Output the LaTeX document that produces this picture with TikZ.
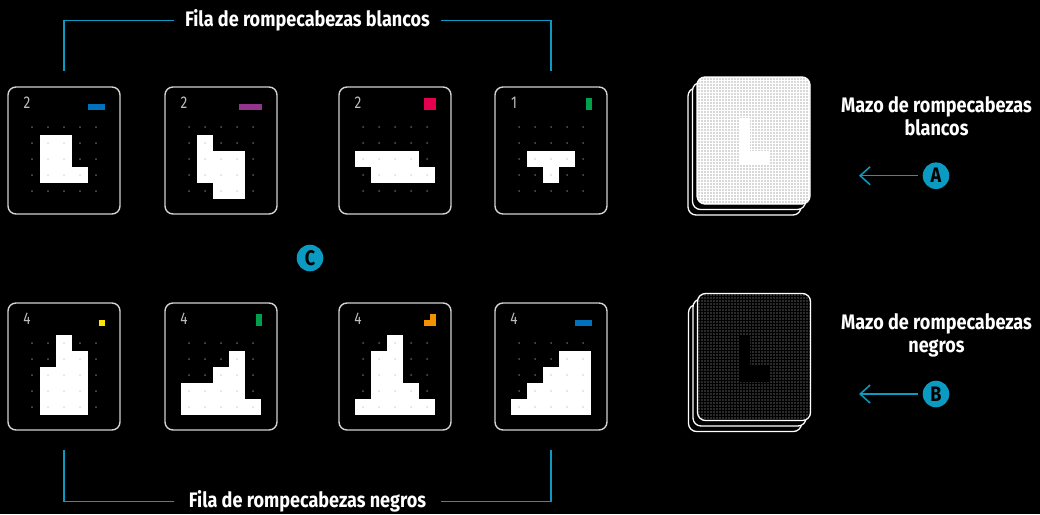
\documentclass[tikz,border=0pt]{standalone}
\usepackage{xcolor}
\usepackage{fontspec}
\setmainfont{Fira Sans}
\newfontfamily\labelfont{Fira Sans}[FakeStretch=0.86]
\newfontfamily\numfont{Fira Sans}[FakeStretch=0.8]
\usepackage{tikz}
\usetikzlibrary{arrows.meta, positioning, calc, patterns.meta}
\definecolor{linkblue}{HTML}{0A9AC2}
\definecolor{cardline}{HTML}{D2D2D2}
\definecolor{numgray}{HTML}{BEBEBE}
\definecolor{dotdark}{HTML}{5A5A5A}
\definecolor{dotlight}{HTML}{DCDCDC}
\definecolor{deckdot}{HTML}{555555}
\definecolor{pieceblue}{HTML}{0072BC}
\definecolor{piecepurple}{HTML}{93358D}
\definecolor{piecered}{HTML}{E5004F}
\definecolor{piecegreen}{HTML}{00A04A}
\definecolor{pieceyellow}{HTML}{FFE600}
\definecolor{pieceorange}{HTML}{F39200}
\tikzstyle{card} = [rectangle,
rounded corners=8pt,
minimum width=112pt,
minimum height=127pt,
inner sep=0pt,
draw=cardline, line width=1.4pt, fill=black]
\tikzstyle{deckcard} = [rectangle,
rounded corners=8pt,
minimum width=113pt,
minimum height=127pt,
inner sep=0pt,
draw=white, line width=1.3pt, fill=black]
\tikzstyle{cardnum} = [text=numgray, inner sep=0pt,
font=\numfont\fontsize{17}{17}\selectfont]
\tikzstyle{rowlabel} = [text=white, inner sep=0pt,
minimum width=266pt,
font=\labelfont\bfseries\fontsize{21}{24}\selectfont]
\tikzstyle{decklabel} = [text=white, inner sep=0pt, align=center,
font=\labelfont\bfseries\fontsize{21}{23}\selectfont]
\tikzstyle{marker} = [circle, fill=linkblue, text=black,
minimum size=26.6pt, inner sep=0pt,
font=\labelfont\bfseries\fontsize{21}{21}\selectfont]
\tikzstyle{bracket} = [linkblue, line width=1.5pt]
\tikzstyle{pointer} = [linkblue, line width=1.5pt,
{Straight Barb[length=10pt,width=18pt]}-, shorten >=5pt]
% dots and white cells of a card: #1 card, #2 cells col/row
\newcommand{\cardgrid}[2]{%
  \foreach \i in {0,...,4}
    \foreach \j in {0,...,4}
      \fill[dotdark] ($(#1)+(16*\i-32,16*\j-23.5)$) circle (1pt);
  \foreach \i/\j in {#2} {
    \fill[white] ($(#1)+(16*\i-40,16*\j-31.5)$) rectangle +(16,16);
    \fill[dotlight] ($(#1)+(16*\i-32,16*\j-23.5)$) circle (1pt);
  }
}
% small coloured piece: #1 card, #2 colour, #3 cells (from right / from bottom)
\newcommand{\cardpiece}[3]{%
  \foreach \i/\j in {#3}
    \fill[#2] ($(#1)+(35.2-5.8*\i,-46.8-5.8*\j)$) rectangle +(5.85,5.85);
}

\begin{document}
\begin{tikzpicture}[x=1pt, y=-1pt]
  \fill[black] (0,0) rectangle (1040,514);
  \useasboundingbox (0,0) rectangle (1040,514);

  % white row
  \node (card1) [card] at (64,150.5) {};
  \node (card2) [card] at (221,150.5) {};
  \node (card3) [card] at (395,150.5) {};
  \node (card4) [card] at (551,150.5) {};
  % black row
  \node (card5) [card] at (64,366.5) {};
  \node (card6) [card] at (221,366.5) {};
  \node (card7) [card] at (395,366.5) {};
  \node (card8) [card] at (551,366.5) {};

  \cardgrid{card1}{1/1,2/1,1/2,2/2,1/3,2/3,3/3}
  \cardgrid{card2}{1/1,1/2,2/2,3/2,1/3,2/3,3/3,2/4,3/4}
  \cardgrid{card3}{0/2,1/2,2/2,3/2,1/3,2/3,3/3,4/3}
  \cardgrid{card4}{1/2,2/2,3/2,2/3}
  \cardgrid{card5}{1/2,1/3,1/4,2/0,2/1,2/2,2/3,2/4,3/1,3/2,3/3,3/4}
  \cardgrid{card6}{0/4,1/4,2/4,3/4,4/4,0/3,1/3,2/3,3/3,2/2,3/2,3/1}
  \cardgrid{card7}{2/0,2/1,2/2,2/3,2/4,1/1,1/2,1/3,1/4,3/3,3/4,0/4,4/4}
  \cardgrid{card8}{3/1,4/1,2/2,3/2,4/2,1/3,2/3,3/3,4/3,0/4,1/4,2/4,3/4,4/4}

  \cardpiece{card1}{pieceblue}{0/0,1/0,2/0}
  \cardpiece{card2}{piecepurple}{0/0,1/0,2/0,3/0}
  \cardpiece{card3}{piecered}{0/0,1/0,0/1,1/1}
  \cardpiece{card4}{piecegreen}{0/0,0/1}
  \cardpiece{card5}{pieceyellow}{0/0}
  \cardpiece{card6}{piecegreen}{0/0,0/1}
  \cardpiece{card7}{pieceorange}{0/0,1/0,0/1}
  \cardpiece{card8}{pieceblue}{0/0,1/0,2/0}

  \node (num1) [cardnum] at ($(card1)+(-37,-47.5)$) {2};
  \node (num2) [cardnum] at ($(card2)+(-37,-47.5)$) {2};
  \node (num3) [cardnum] at ($(card3)+(-37,-47.5)$) {2};
  \node (num4) [cardnum] at ($(card4)+(-37,-47.5)$) {1};
  \node (num5) [cardnum] at ($(card5)+(-37,-47.5)$) {4};
  \node (num6) [cardnum] at ($(card6)+(-37,-47.5)$) {4};
  \node (num7) [cardnum] at ($(card7)+(-37,-47.5)$) {4};
  \node (num8) [cardnum] at ($(card8)+(-37,-47.5)$) {4};

  % row labels
  \node (toprow) [rowlabel] at (307.5,20.3) {Fila de rompecabezas blancos};
  \node (bottomrow) [rowlabel] at (307.5,501.5) {Fila de rompecabezas negros};
  \draw [bracket] (toprow.west) -| ([yshift=15.5pt]card1.north);
  \draw [bracket] (toprow.east) -| ([yshift=15.5pt]card4.north);
  \draw [bracket] (bottomrow.west) -| ([yshift=-19.5pt]card5.south);
  \draw [bracket] (bottomrow.east) -| ([yshift=-19.5pt]card8.south);

  \node (markC) [marker] at (310,258) {C};

  % decks
  \node (whitedeck3) [deckcard] at (744.5,151.5) {};
  \node (whitedeck2) [deckcard] at (749,146) {};
  \node (whitedeck1) [deckcard, preaction={fill=white},
    pattern={Dots[radius=0.85pt, distance=3pt]}, pattern color=gray!60] at (753.5,140.5) {};
  \fill[white] ($(whitedeck1)+(-15,-23)$) rectangle ($(whitedeck1)+(-4,23)$);
  \fill[white] ($(whitedeck1)+(-15,10)$) rectangle ($(whitedeck1)+(16,23)$);

  \node (blackdeck3) [deckcard] at (745,368) {};
  \node (blackdeck2) [deckcard] at (749.5,362.5) {};
  \node (blackdeck1) [deckcard, preaction={fill=black},
    pattern={Dots[radius=0.85pt, distance=3pt]}, pattern color=deckdot] at (754,357) {};
  \fill[black] ($(blackdeck1)+(-15,-22)$) rectangle ($(blackdeck1)+(-4,25)$);
  \fill[black] ($(blackdeck1)+(-15,9)$) rectangle ($(blackdeck1)+(16,25)$);

  \node (whitedecklabel) [decklabel] at (936.5,116) {Mazo de rompecabezas\\blancos};
  \node (blackdecklabel) [decklabel] at (936.5,335) {Mazo de rompecabezas\\negros};

  \node (markA) [marker] at (936,175.7) {A};
  \node (markB) [marker] at (936,394) {B};
  \coordinate (tipA) at (859,175.7);
  \coordinate (tipB) at (859,394);
  \draw [pointer] (tipA) -- (markA);
  \draw [pointer] (tipB) -- (markB);
\end{tikzpicture}
\end{document}
